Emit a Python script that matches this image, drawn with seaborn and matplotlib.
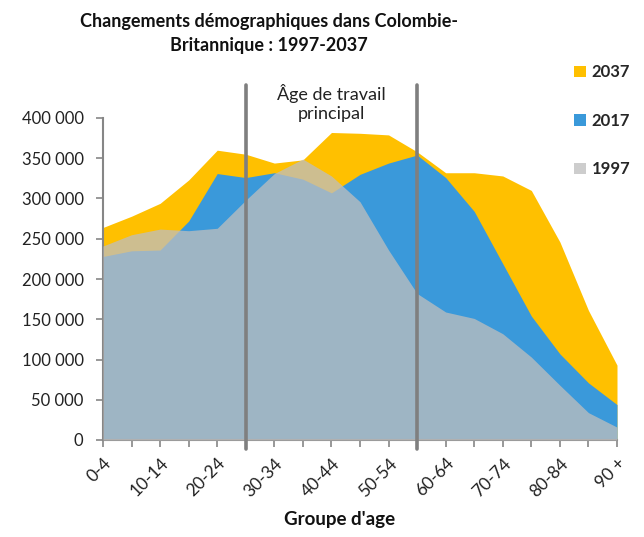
import matplotlib
matplotlib.use("Agg")
import matplotlib.pyplot as plt
import matplotlib.transforms as mtransforms
from matplotlib.patches import Patch
import seaborn as sns

# -----------------------------
# Data
# -----------------------------
age_groups = ["0-4", "5-9", "10-14", "15-19", "20-24", "25-29", "30-34",
              "35-39", "40-44", "45-49", "50-54", "55-59", "60-64", "65-69",
              "70-74", "75-79", "80-84", "85-89", "90 +"]

pop_2037 = [264000, 278000, 294000, 323000, 360000, 355000, 344000, 348000,
            382000, 381000, 379000, 358000, 332000, 332000, 328000, 310000,
            246000, 161000, 93000]
pop_2017 = [228000, 235000, 236000, 272000, 331000, 326000, 332000, 324000,
            307000, 330000, 344000, 354000, 326000, 284000, 219000, 154000,
            107000, 71000, 44000]
pop_1997 = [241000, 255000, 262000, 260000, 263000, 298000, 331000, 349000,
            328000, 296000, 236000, 182000, 159000, 151000, 132000, 103000,
            68000, 34000, 16000]

working_age_bounds = ["25-29", "55-59"]

# -----------------------------
# Setup
# -----------------------------
sns.set_theme(style="white")
plt.rcParams["font.family"] = ["Lato", "DejaVu Sans"]

YELLOW = "#FFC000"
BLUE = "#3A99DA"
GREY = "#BEBEBE"
AXIS = "#868686"

fig = plt.figure(figsize=(6.44, 5.37), dpi=100)
ax = fig.add_axes([103 / 644, 1 - 440 / 537, (617 - 103) / 644, (440 - 118) / 537])

x = list(range(len(age_groups)))
ax.fill_between(x, 0, pop_2037, color=YELLOW, lw=0, zorder=1)
ax.fill_between(x, 0, pop_2017, color=BLUE, lw=0, zorder=2)
ax.fill_between(x, 0, pop_1997, color=GREY, alpha=0.76, lw=0, zorder=3)

ax.set_xlim(0, len(age_groups) - 1)
ax.set_ylim(0, 400000)

# y axis
yt = list(range(0, 400001, 50000))
ax.set_yticks(yt)
ax.set_yticklabels([f"{v:,}".replace(",", " ") for v in yt], fontsize=12, color="#222222")

# x axis: tick at every group, label every other
ax.set_xticks(x)
ax.set_xticklabels([g if i % 2 == 0 else "" for i, g in enumerate(age_groups)],
                   rotation=45, ha="right", rotation_mode="anchor", fontsize=12.5,
                   color="#222222")

ax.tick_params(axis="both", which="major", direction="out", length=5, width=1.2,
               color=AXIS, left=True, bottom=True)
ax.tick_params(axis="y", pad=9)
ax.tick_params(axis="x", pad=6)
sns.despine(ax=ax)
for side in ["left", "bottom"]:
    ax.spines[side].set_color(AXIS)
    ax.spines[side].set_linewidth(1.5)
ax.grid(False)

# working-age boundary lines
trans = mtransforms.blended_transform_factory(ax.transData, fig.transFigure)
for g in working_age_bounds:
    xi = age_groups.index(g)
    ax.plot([xi, xi], [1 - 85 / 537, 1 - 449 / 537], transform=trans,
            color="#7F7F7F", lw=2.6, clip_on=False, zorder=10)

fig.text(331 / 644, 1 - 103 / 537, "Âge de travail\nprincipal", ha="center",
         va="center", fontsize=13, color="#222222", linespacing=1.2)

# titles
fig.text(269 / 644, 1 - 34 / 537, "Changements démographiques dans Colombie-\nBritannique : 1997-2037",
         ha="center", va="center", fontsize=13, fontweight="bold",
         color="#111111", linespacing=1.5)
fig.text(340 / 644, 1 - 520 / 537, "Groupe d'age", ha="center", va="center",
         fontsize=13.5, fontweight="bold", color="#111111")

# legend
handles = [Patch(facecolor=YELLOW, edgecolor="none", label="2037"),
           Patch(facecolor=BLUE, edgecolor="none", label="2017"),
           Patch(facecolor=GREY, alpha=0.76, edgecolor="none", label="1997")]
leg = fig.legend(handles=handles, loc="upper left",
                 bbox_to_anchor=(566 / 644, 1 - 56 / 537), frameon=False,
                 handlelength=0.7, handleheight=0.7, handletextpad=0.35,
                 labelspacing=1.95, borderpad=0,
                 prop={"weight": "bold", "size": 12})

plt.savefig("out.png", dpi=100)
plt.close()
